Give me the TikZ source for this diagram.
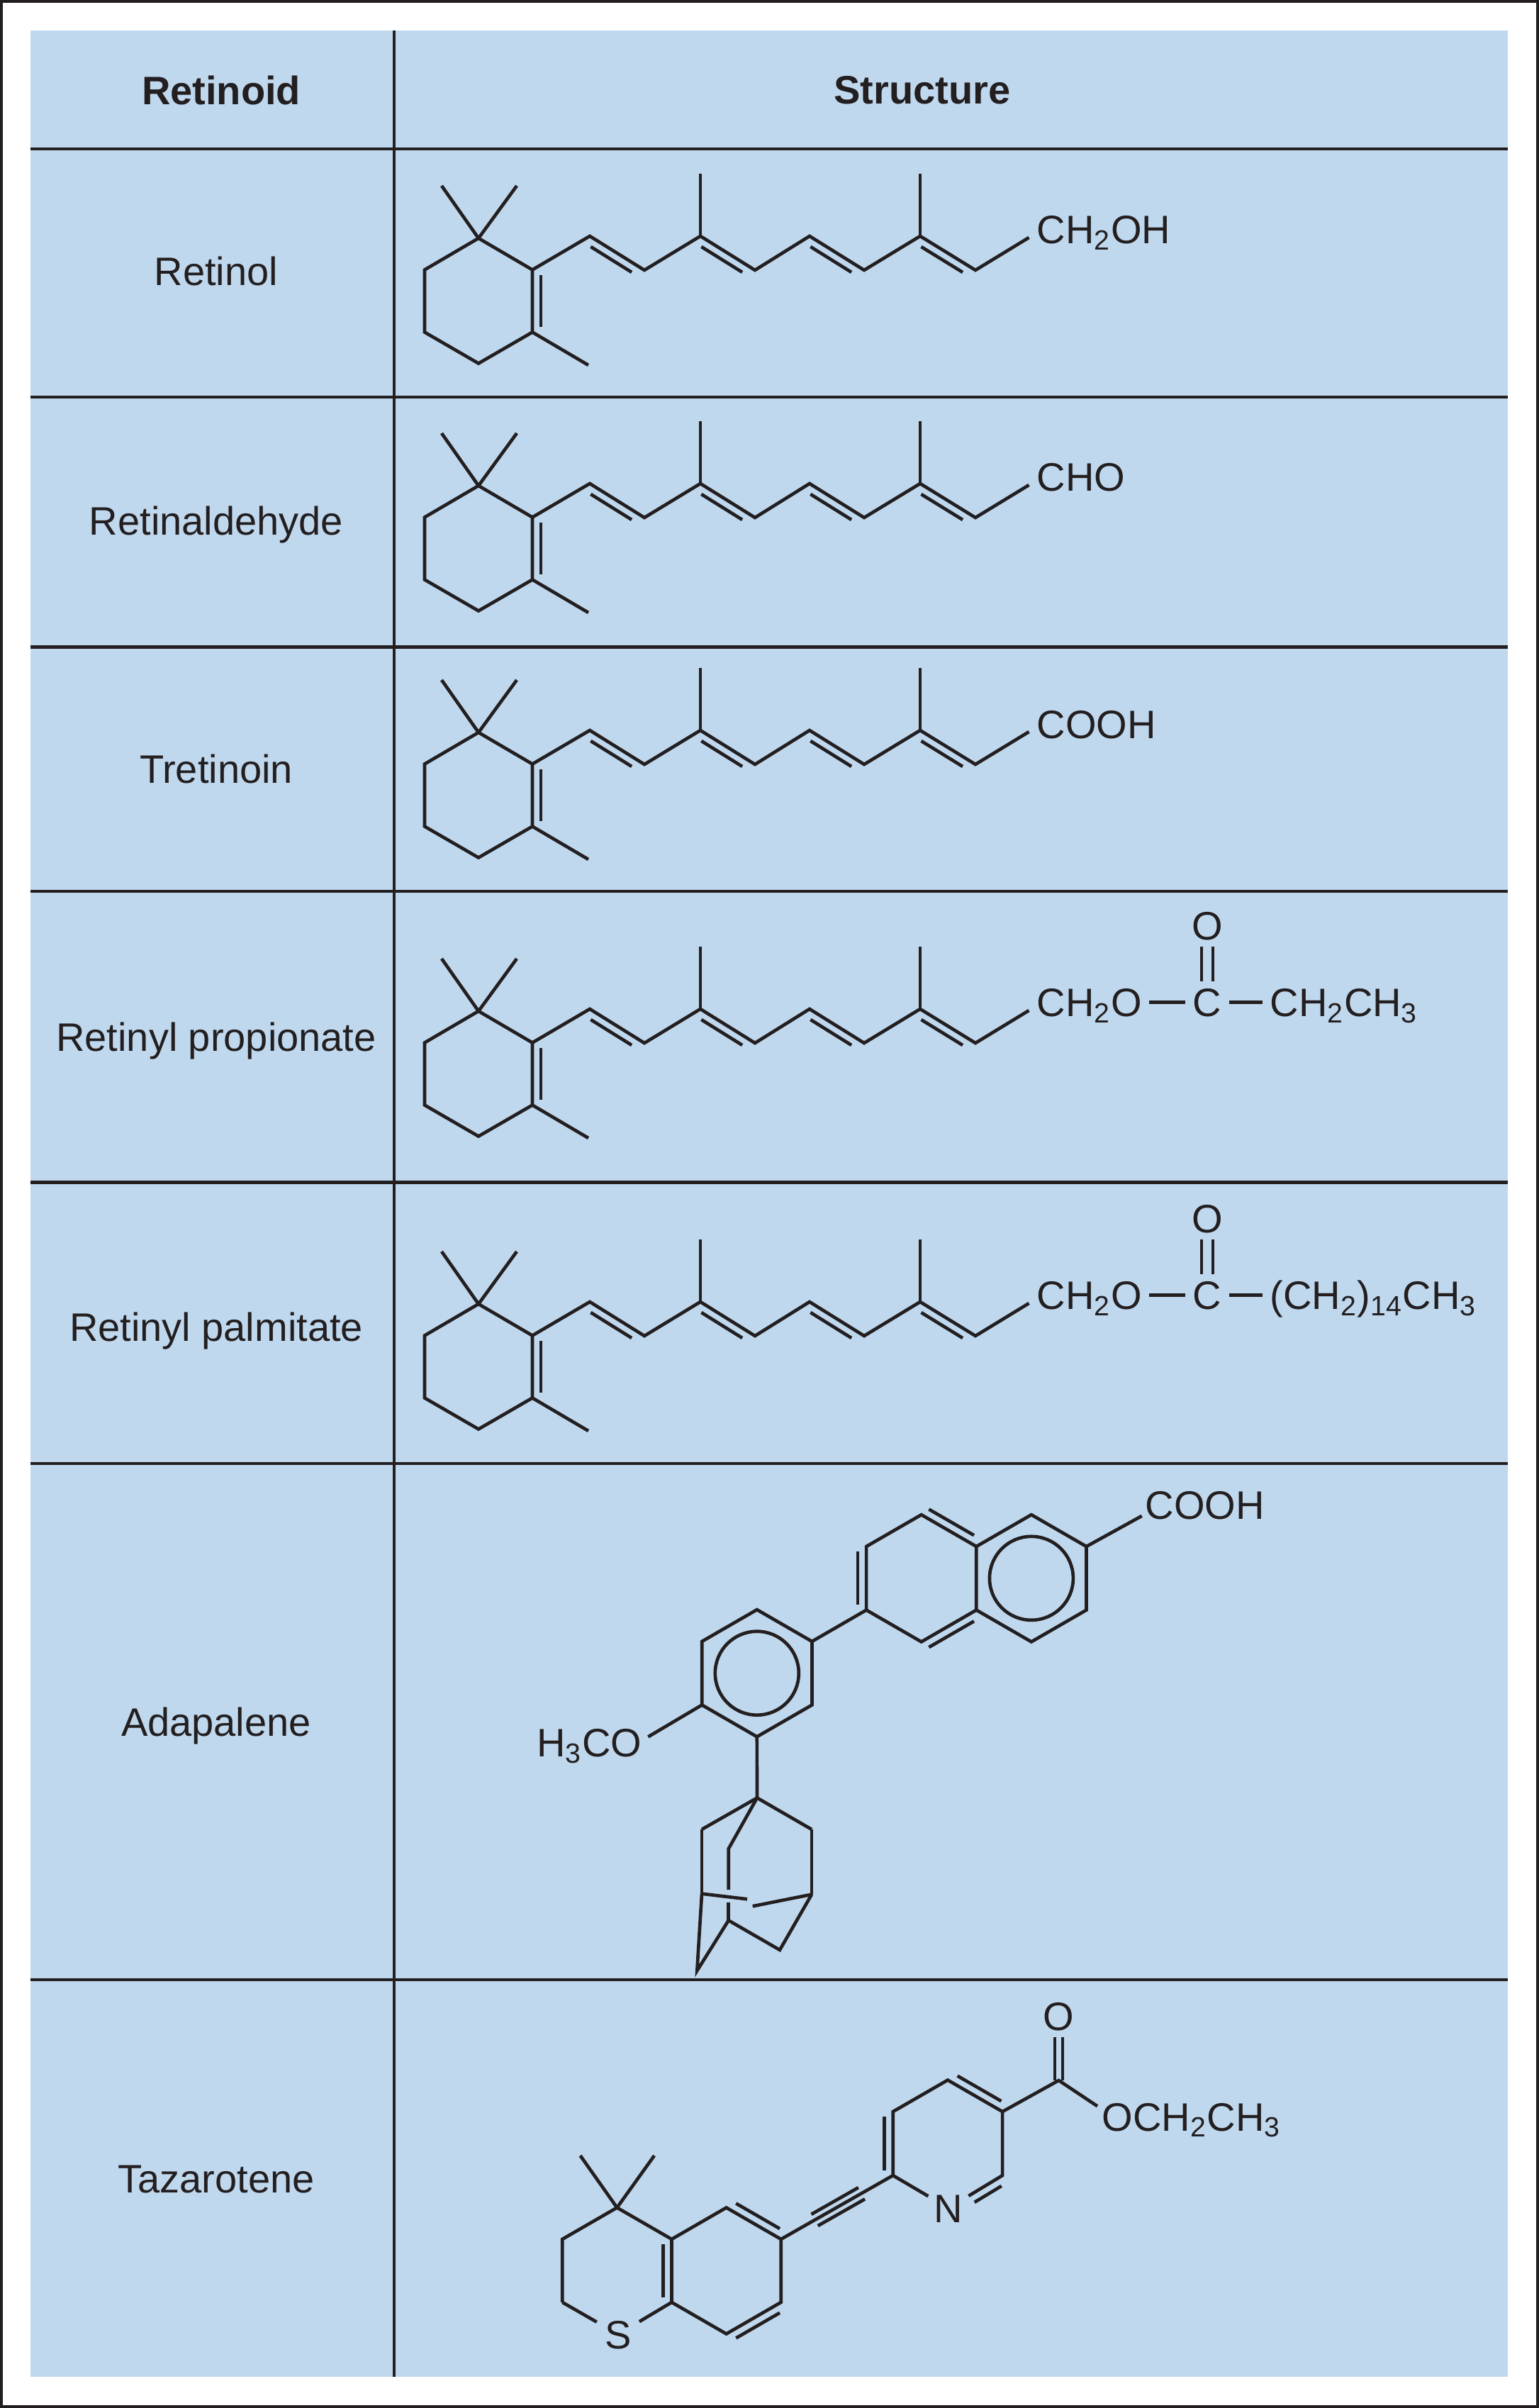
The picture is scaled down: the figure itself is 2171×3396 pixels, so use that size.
\documentclass[tikz,border=0pt]{standalone}
\usepackage{fontspec}
\setmainfont{Liberation Sans}
\usetikzlibrary{calc}

\definecolor{tabblue}{RGB}{192,216,238}
\definecolor{inkblack}{RGB}{35,31,32}

\tikzset{
  bond/.style={draw=inkblack, line width=1.4pt},
  rule/.style={draw=inkblack, line width=1.3pt},
  lab/.style={text=inkblack, inner sep=0pt, anchor=base, font=\fontsize{16.8}{20}\selectfont},
  headlab/.style={lab, font=\fontsize{16.8}{20}\selectfont\bfseries},
  chem/.style={text=inkblack, inner sep=0pt, text height=12pt, text depth=0pt, font=\fontsize{16.8}{20}\selectfont},
  atom/.style={chem, circle, minimum size=20.5pt},
}

% second line of a double bond, on the left of #1 -> #2
\newcommand{\innerline}[4]{%
  \path ($(#1)!#3!(#2)$) coordinate (il-a) ($(#2)!#4!(#1)$) coordinate (il-b);
  \draw[bond] ($(il-a)!3.6pt!90:(il-b)$) -- ($(il-b)!3.6pt!-90:(il-a)$);}
% outer pair of a triple bond
\newcommand{\tripleflank}[2]{%
  \path ($(#1)!0.3!(#2)$) coordinate (tf-a) ($(#1)!0.72!(#2)$) coordinate (tf-b);
  \draw[bond] ($(tf-a)!2.8pt!90:(tf-b)$) -- ($(tf-b)!2.8pt!-90:(tf-a)$);
  \draw[bond] ($(tf-a)!2.8pt!-90:(tf-b)$) -- ($(tf-b)!2.8pt!90:(tf-a)$);}

\begin{document}
\begin{tikzpicture}[x=0.3pt,y=0.3pt,yscale=-1,xscale=1]
\useasboundingbox (0,0) rectangle (2171,3396);

% Frame and table background
\fill[tabblue] (42.5,42.7) rectangle (2127,3352);
\draw[inkblack, line width=1.2pt] (2,2) rectangle (2169,3394);

%Straight Lines (table rules)
\foreach \ry in {210,560,912.5,1257,1667.5,2064,2791.7}
  \draw[rule] (42.5,\ry) -- (2127,\ry);
\draw[rule] (556,42.7) -- (556,3352);

% Text Node (header)
\node[headlab] (hretinoid) at (312,148) {Retinoid};
\node[headlab] (hstructure) at (1301,147) {Structure};

% Text Node (names)
\node[lab] (nretinol) at (305,403) {Retinol};
\node[lab] (nretinal) at (305,755) {Retinaldehyde};
\node[lab] (ntretinoin) at (305,1104) {Tretinoin};
\node[lab] (npropionate) at (305,1482) {Retinyl propionate};
\node[lab] (npalmitate) at (305,1891) {Retinyl palmitate};
\node[lab] (nadapalene) at (305,2448) {Adapalene};
\node[lab] (ntazarotene) at (305,3092) {Tazarotene};

% Retinoid backbone, once per row
\foreach \off in {0,349,697,1090,1503}{
\begin{scope}[shift={(0,\off)}]
  \coordinate (r1) at (675,336);
  \coordinate (r2) at (751,380.5);
  \coordinate (r3) at (751,468.5);
  \coordinate (r4) at (675,512.5);
  \coordinate (r5) at (599,468.5);
  \coordinate (r6) at (599,380.5);
  \coordinate (m1) at (623,262);
  \coordinate (m2) at (729,262);
  \coordinate (m3) at (830,515);
  \coordinate (c2) at (832,333);
  \coordinate (c3) at (909,381);
  \coordinate (c4) at (988,333);
  \coordinate (m4) at (988,245);
  \coordinate (c5) at (1065,381);
  \coordinate (c6) at (1142,333);
  \coordinate (c7) at (1219,381);
  \coordinate (c8) at (1298,333);
  \coordinate (m5) at (1298,245);
  \coordinate (c9) at (1376,381);
  \coordinate (c10) at (1451.5,335);
  \draw[bond] (r1) -- (r2) -- (r3) -- (r4) -- (r5) -- (r6) -- cycle;
  \draw[bond] (r1) -- (m1);
  \draw[bond] (r1) -- (m2);
  \draw[bond] (r3) -- (m3);
  \draw[bond] (r2) -- (c2) -- (c3) -- (c4) -- (c5) -- (c6) -- (c7) -- (c8) -- (c9) -- (c10);
  \draw[bond] (c4) -- (m4);
  \draw[bond] (c8) -- (m5);
  \innerline{r3}{r2}{0.08}{0.08}
  \innerline{c2}{c3}{0.1}{0.15}
  \innerline{c4}{c5}{0.1}{0.15}
  \innerline{c6}{c7}{0.1}{0.15}
  \innerline{c8}{c9}{0.1}{0.15}
\end{scope}
}

% End groups
\node[chem, anchor=base west] (e-ol) at (1462,344) {CH\textsubscript{2}OH};
\node[chem, anchor=base west] (e-al) at (1462,693) {CHO};
\node[chem, anchor=base west] (e-acid) at (1462,1041.5) {COOH};

% Propionate ester
\node[chem, anchor=base west] (p-ch2o) at (1462,1433.5) {CH\textsubscript{2}O};
\node[chem, anchor=base] (p-c) at (1703,1433.5) {C};
\node[chem, anchor=base] (p-o) at (1703,1325) {O};
\node[chem, anchor=base west] (p-tail) at (1791,1433.5) {CH\textsubscript{2}CH\textsubscript{3}};
\draw[bond, shorten <=3pt, shorten >=3pt] (p-ch2o.east) -- (p-c.west);
\draw[bond, shorten <=3pt, shorten >=3pt] (p-c.east) -- (p-tail.west);
\draw[bond, shorten <=2.8pt, shorten >=2.8pt] ([xshift=-2.4pt]p-c.north) -- ([xshift=-2.4pt]p-o.south);
\draw[bond, shorten <=2.8pt, shorten >=2.8pt] ([xshift=2.4pt]p-c.north) -- ([xshift=2.4pt]p-o.south);

% Palmitate ester
\node[chem, anchor=base west] (q-ch2o) at (1462,1846.5) {CH\textsubscript{2}O};
\node[chem, anchor=base] (q-c) at (1703,1846.5) {C};
\node[chem, anchor=base] (q-o) at (1703,1738) {O};
\node[chem, anchor=base west] (q-tail) at (1791,1846.5) {(CH\textsubscript{2})\textsubscript{14}CH\textsubscript{3}};
\draw[bond, shorten <=3pt, shorten >=3pt] (q-ch2o.east) -- (q-c.west);
\draw[bond, shorten <=3pt, shorten >=3pt] (q-c.east) -- (q-tail.west);
\draw[bond, shorten <=2.8pt, shorten >=2.8pt] ([xshift=-2.4pt]q-c.north) -- ([xshift=-2.4pt]q-o.south);
\draw[bond, shorten <=2.8pt, shorten >=2.8pt] ([xshift=2.4pt]q-c.north) -- ([xshift=2.4pt]q-o.south);

% Adapalene: naphthalene
\coordinate (na1) at (1299.7,2136.2);
\coordinate (na2) at (1222.1,2181);
\coordinate (na3) at (1222.1,2270.6);
\coordinate (na4) at (1299.7,2315.4);
\coordinate (na5) at (1377.3,2270.6);
\coordinate (na6) at (1377.3,2181);
\coordinate (nb1) at (1454.9,2136.2);
\coordinate (nb2) at (1532.5,2181);
\coordinate (nb3) at (1532.5,2270.6);
\coordinate (nb4) at (1454.9,2315.4);
\coordinate (acooh) at (1610.7,2137.9);
\draw[bond] (na1) -- (na2) -- (na3) -- (na4) -- (na5) -- (na6) -- cycle;
\draw[bond] (na6) -- (nb1) -- (nb2) -- (nb3) -- (nb4) -- (na5);
\draw[bond] (1454.9,2225.8) circle (59);
\innerline{na2}{na3}{0.08}{0.08}
\innerline{na6}{na1}{0.12}{0.06}
\innerline{na4}{na5}{0.06}{0.12}
\draw[bond] (nb2) -- (acooh);
\node[chem, anchor=base west] (a-acid) at (1615,2142.6) {COOH};

% Adapalene: anisole ring
\coordinate (pa1) at (1067.8,2270.1);
\coordinate (pa2) at (990.2,2314.9);
\coordinate (pa3) at (990.2,2404.5);
\coordinate (pa4) at (1067.8,2449.3);
\coordinate (pa5) at (1145.4,2404.5);
\coordinate (pa6) at (1145.4,2314.9);
\coordinate (aome) at (914.3,2449.4);
\draw[bond] (pa1) -- (pa2) -- (pa3) -- (pa4) -- (pa5) -- (pa6) -- cycle;
\draw[bond] (1067.8,2359.7) circle (59);
\draw[bond] (na3) -- (pa6);
\draw[bond] (pa3) -- (aome);
\node[chem, anchor=base east] (a-ome) at (906,2477.7) {H\textsubscript{3}CO};

% Adapalene: adamantyl
\coordinate (ad1) at (1068,2535.5);
\coordinate (ad2) at (990,2580);
\coordinate (ad3) at (1145,2580);
\coordinate (ad4) at (1027.7,2607.3);
\coordinate (adg1) at (1027.7,2665);
\coordinate (adg2) at (1027.7,2683.3);
\coordinate (ad5) at (990,2670.7);
\coordinate (ad6) at (1145,2671.7);
\coordinate (adx1) at (1054,2678.3);
\coordinate (adx2) at (1061.7,2688.3);
\coordinate (ad7) at (1027.7,2708.3);
\coordinate (ad8) at (1100,2750);
\coordinate (ad9) at (983.3,2779.3);
\draw[bond] (pa4) -- (ad1);
\draw[bond] (ad2) -- (ad1) -- (ad3);
\draw[bond] (ad1) -- (ad4) -- (adg1);
\draw[bond] (adg2) -- (ad7);
\draw[bond] (ad2) -- (ad5);
\draw[bond] (ad3) -- (ad6);
\draw[bond] (ad5) -- (adx1);
\draw[bond] (adx2) -- (ad6);
\draw[bond] (ad6) -- (ad8) -- (ad7);
\draw[bond] (ad7) -- (ad9) -- (ad5);

% Tazarotene: thiochromane
\coordinate (t4) at (870.4,3113.4);
\coordinate (t4a) at (947.5,3157.9);
\coordinate (t8a) at (947.5,3246.9);
\coordinate (t2) at (793.3,3246.9);
\coordinate (t3) at (793.3,3157.9);
\coordinate (tm1) at (818.6,3040);
\coordinate (tm2) at (923,3040);
\coordinate (t5) at (1024.6,3113.4);
\coordinate (t6) at (1101.7,3157.9);
\coordinate (t7) at (1101.7,3246.9);
\coordinate (t8) at (1024.6,3291.4);
\node[atom] (S) at (872,3292) {S};
\draw[bond] (t4) -- (tm1);
\draw[bond] (t4) -- (tm2);
\draw[bond] (t2) -- (t3) -- (t4) -- (t4a) -- (t8a);
\draw[bond] (t2) -- (S) -- (t8a);
\draw[bond] (t4a) -- (t5) -- (t6) -- (t7) -- (t8) -- (t8a);
\innerline{t4a}{t8a}{0.08}{0.08}
\innerline{t6}{t5}{0.1}{0.1}
\innerline{t8}{t7}{0.1}{0.1}

% Tazarotene: alkyne and pyridine
\coordinate (py4) at (1336.9,2933.5);
\coordinate (py3) at (1259.7,2978);
\coordinate (py2) at (1259.7,3068);
\coordinate (py6) at (1414.1,3068);
\coordinate (py5) at (1414.1,2978);
\node[atom, minimum size=19.5pt] (N) at (1338,3114) {N};
\draw[bond] (t6) -- (py2);
\tripleflank{t6}{py2}
\draw[bond] (N) -- (py2) -- (py3) -- (py4) -- (py5) -- (py6) -- (N);
\innerline{py3}{py2}{0.08}{0.08}
\innerline{py5}{py4}{0.1}{0.1}
\innerline{N}{py6}{0.4}{0.1}

% Tazarotene: ethyl ester
\coordinate (tcc) at (1493.5,2934);
\coordinate (teo) at (1548,2970.3);
\node[chem, anchor=base] (t-o) at (1493.5,2863) {O};
\node[chem, anchor=base west] (t-oet) at (1554,3005) {OCH\textsubscript{2}CH\textsubscript{3}};
\draw[bond] (py5) -- (tcc) -- (teo);
\draw[bond, shorten >=2.7pt] ([xshift=-1.65pt]tcc) -- ([xshift=-1.65pt]t-o.south);
\draw[bond, shorten >=2.7pt] ([xshift=1.65pt]tcc) -- ([xshift=1.65pt]t-o.south);

\end{tikzpicture}
\end{document}
